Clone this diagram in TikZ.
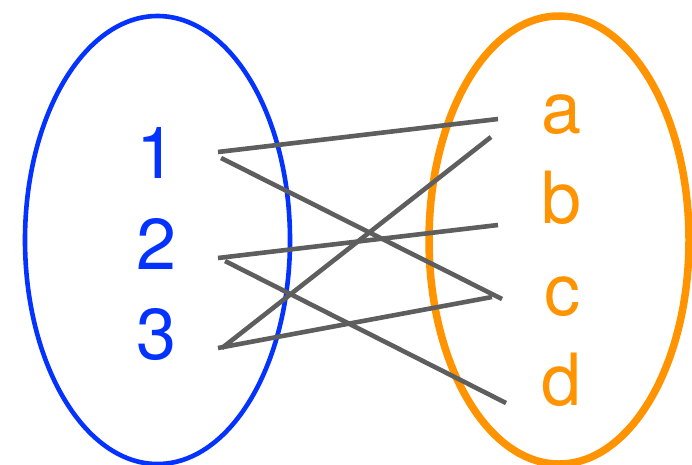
\documentclass[tikz,border=0pt]{standalone}
\usepackage{fontspec}
\setmainfont{TeX Gyre Heros}
\usepackage{tikz}
\definecolor{dblue}{HTML}{0433FF}
\definecolor{rorange}{HTML}{FF9300}
\definecolor{mgray}{HTML}{5E5E5E}
\tikzset{
  domset/.style={draw=dblue, line width=4.6pt},
  codset/.style={draw=rorange, line width=7.5pt},
  delt/.style={anchor=base, text=dblue, inner sep=0pt, font=\fontsize{72}{72}\selectfont},
  codelt/.style={anchor=base, text=rorange, inner sep=0pt, font=\fontsize{72}{72}\selectfont},
  maps/.style={draw=mgray, line width=4.6pt}
}

\begin{document}
\begin{tikzpicture}[x=1pt, y=-1pt]
  \useasboundingbox (0,0) rectangle (692,464);
  \draw[domset] (157.5,240) ellipse [x radius=132.5, y radius=224];
  \draw[codset] (559,240) ellipse [x radius=130, y radius=224];

  \node[delt] (n1) at (157,178) {1};
  \node[delt] (n2) at (157,269) {2};
  \node[delt] (n3) at (157,359) {3};
  \node[codelt] (a) at (562,133) {a};
  \node[codelt] (b) at (562,223) {b};
  \node[codelt] (c) at (562,315) {c};
  \node[codelt] (d) at (562,405) {d};

  % end points of the arrows
  \coordinate (n1top) at (218,152);
  \coordinate (n1bot) at (221,158);
  \coordinate (n2top) at (218,258);
  \coordinate (n2bot) at (225,261);
  \coordinate (n3a) at (222,348);
  \coordinate (n3c) at (218,348);
  \coordinate (ain) at (498,119);
  \coordinate (aup) at (491,137);
  \coordinate (bin) at (498,225);
  \coordinate (cin) at (502,299);
  \coordinate (cup) at (492,297);
  \coordinate (din) at (506,403);

  \draw[maps] (n1top) -- (ain);
  \draw[maps] (n1bot) -- (cin);
  \draw[maps] (n2top) -- (bin);
  \draw[maps] (n2bot) -- (din);
  \draw[maps] (n3a) -- (aup);
  \draw[maps] (n3c) -- (cup);
\end{tikzpicture}
\end{document}
